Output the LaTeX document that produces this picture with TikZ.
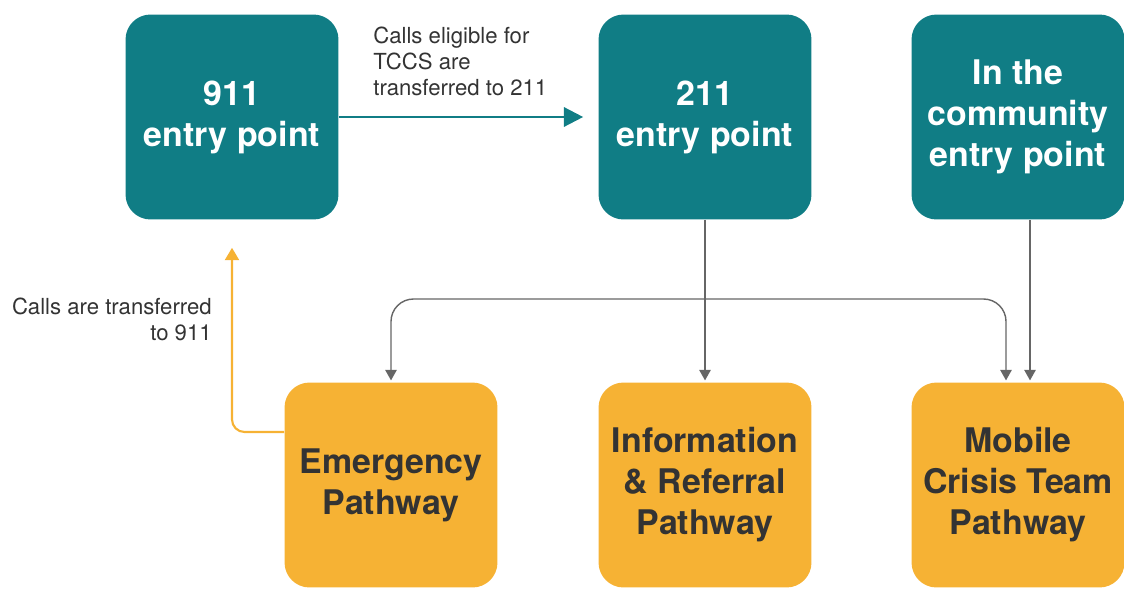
\documentclass[tikz,border=0pt]{standalone}
\usepackage{fontspec}
\setmainfont{TeX Gyre Heros}
\usepackage{xcolor}
\usetikzlibrary{arrows.meta, positioning}
\definecolor{tealbox}{HTML}{107D85}
\definecolor{orangebox}{HTML}{F6B234}
\definecolor{darktext}{HTML}{333333}
\definecolor{flowgray}{HTML}{666666}

\begin{document}
\begin{tikzpicture}[x=0.02cm, y=-0.02cm,
    box/.style={rounded corners=0.5cm, minimum width=4.26cm, minimum height=4.1cm,
      align=center, font=\fontsize{19.3}{23.3}\selectfont\bfseries, inner sep=2pt},
    entrybox/.style={box, fill=tealbox, text=white},
    pathbox/.style={box, fill=orangebox, text=darktext},
    note/.style={inner sep=0pt, text=darktext, font=\fontsize{12.6}{14.7}\selectfont},
    flow/.style={flowgray, line width=0.8pt, -{Triangle[length=6pt, width=6.5pt]}}]
  \useasboundingbox (0,0) rectangle (1124,605);

  % Vstupní body
  \node[entrybox] (e911) at (232,117) {911\\entry point};
  \node[entrybox] (e211) at (705,117) {211\\entry point};
  \node[entrybox] (ecomm) at (1018,117) {In the\\community\\entry point};

  % Cesty
  \node[pathbox] (emerg) at (391,485) {Emergency\\Pathway};
  \node[pathbox] (info) at (705,485) {Information\\\& Referral\\Pathway};
  \node[pathbox] (mobile) at (1018,485) {Mobile\\Crisis Team\\Pathway};

  % 911 -> 211
  \draw[tealbox, line width=1.4pt, -{Triangle[length=11pt, width=11pt]}, shorten >=0.3cm]
    (e911) -- (e211);
  \node[note, anchor=north west, align=left] (lbltccs) at (373,27)
    {Calls eligible for\\TCCS are\\transferred to 211};

  % Emergency -> 911
  \draw[orangebox, line width=1.2pt, rounded corners=0.25cm,
        -{Triangle[length=7pt, width=8pt]}, shorten >=0.56cm]
    ([yshift=1.06cm]emerg.west) -| (e911.south);
  \node[note, anchor=north east, align=right] (lbl911) at (212,298)
    {Calls are transferred\\to 911};

  % 211 a komunita -> cesty
  \coordinate (split) at (705,299);
  \draw[flow, shorten >=1pt] (e211) -- (info);
  \draw[flow, rounded corners=0.45cm, shorten >=1pt] (split) -| (emerg.north);
  \draw[flow, rounded corners=0.45cm, shorten >=1pt] (split) -| ([xshift=-0.24cm]mobile.north);
  \draw[flow, shorten >=1pt] ([xshift=0.24cm]ecomm.south) -- ([xshift=0.24cm]mobile.north);
\end{tikzpicture}
\end{document}
